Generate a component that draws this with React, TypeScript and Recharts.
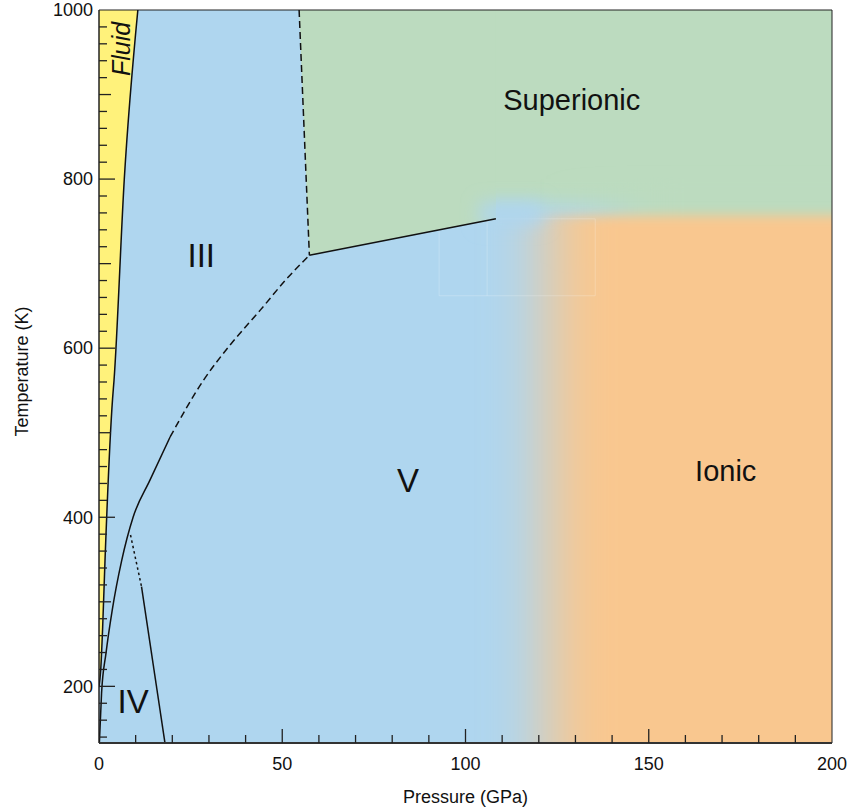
import React from 'react';
import {
  ComposedChart,
  Area,
  Line,
  XAxis,
  YAxis,
  ReferenceArea,
  ReferenceDot,
  ReferenceLine
} from 'recharts';

// phase boundaries, pressure (GPa) vs temperature (K)
const meltingLine = [
  { p: 0, t: 199 },
  { p: 0.46, t: 219 },
  { p: 1.0, t: 270 },
  { p: 1.64, t: 349 },
  { p: 3.7, t: 540 },
  { p: 4.1, t: 562 },
  { p: 6.9, t: 800 },
  { p: 10.6, t: 1000 }
];

const phaseIVLine = [
  { p: 0.1, t: 133 },
  { p: 0.7, t: 192 },
  { p: 1.9, t: 239 },
  { p: 3.6, t: 290 },
  { p: 6.2, t: 349 },
  { p: 9.3, t: 400 },
  { p: 13.9, t: 444 },
  { p: 19.4, t: 495 }
];

const phaseIIIDashed = [
  { p: 19.4, t: 495 },
  { p: 28.5, t: 562 },
  { p: 36, t: 605 },
  { p: 44, t: 645 },
  { p: 51, t: 681 },
  { p: 57.4, t: 710 }
];

const superionicLeft = [
  { p: 54.6, t: 1000 },
  { p: 57.4, t: 710 }
];

const superionicBottom = [
  { p: 57.4, t: 710 },
  { p: 108.3, t: 753 }
];

const ivVDotted = [
  { p: 8.6, t: 379 },
  { p: 11.6, t: 318 }
];

const ivVSolid = [
  { p: 11.6, t: 318 },
  { p: 18.0, t: 133 }
];

const superionicArea = [
  { p: 54.6, t: 1000 },
  { p: 57.4, t: 710 },
  { p: 108.3, t: 753 }
];

// soft-edged regions: [pMin, pMax, tMin, tMax]
const superionicSoft = [95, 230, 768, 1150];
const superionicFill = [140, 230, 700, 800];
const ionicSoft = [122, 230, 60, 757];
const blendPatch = [104, 121, 746, 772];

const regionLabels = [
  { text: 'Superionic', p: 129, t: 894 },
  { text: 'III', p: 27.9, t: 710 },
  { text: 'V', p: 84.3, t: 443 },
  { text: 'Ionic', p: 171, t: 455 },
  { text: 'IV', p: 9.3, t: 182.6 }
];
const fluidLabel = { text: 'Fluid', p: 6.0, t: 954 };

const xLabels = [0, 50, 100, 150, 200];
const yLabels = [200, 400, 600, 800, 1000];

const xTicks: number[] = [];
for (let v = 0; v <= 200; v += 10) xTicks.push(v);
const yTicks: number[] = [];
for (let v = 140; v <= 1000; v += 20) yTicks.push(v);

const BLUE = '#AFD6EF';
const GREEN = '#BCDBBF';
const ORANGE = '#F9C78F';
const YELLOW = '#FFF27B';
const INK = '#111';
const FONT = '"Liberation Sans", Arial, sans-serif';

const XTick = (props: any) => {
  const { x, y, payload } = props;
  const v = payload.value;
  const len = v % 50 === 0 ? 14 : 8;
  return (
    <g>
      {v > 0 && v < 200 && (
        <line x1={x} x2={x} y1={y} y2={y - len} stroke="#222" strokeWidth={1.3} />
      )}
      {xLabels.includes(v) && (
        <text x={x} y={y + 27} textAnchor="middle" fontSize={18} fontFamily={FONT} fill={INK}>
          {v}
        </text>
      )}
    </g>
  );
};

const YTick = (props: any) => {
  const { x, y, payload } = props;
  const v = payload.value;
  const len = v % 200 === 0 ? 16 : v % 100 === 0 ? 12 : 8;
  return (
    <g>
      {v < 1000 && <line x1={x} x2={x + len} y1={y} y2={y} stroke="#222" strokeWidth={1.3} />}
      {yLabels.includes(v) && (
        <text x={x - 6} y={y} dy="0.35em" textAnchor="end" fontSize={18} fontFamily={FONT} fill={INK}>
          {v}
        </text>
      )}
    </g>
  );
};

const softShape = (fill: string, filterId: string) => (props: any) => (
  <g clipPath={props.clipPath}>
    <rect
      x={props.x}
      y={props.y}
      width={props.width}
      height={props.height}
      fill={fill}
      filter={`url(#${filterId})`}
    />
  </g>
);

const labelShape = (text: string, big: boolean) => (props: any) => (
  <text
    x={props.cx}
    y={props.cy}
    textAnchor="middle"
    dominantBaseline="central"
    fontSize={big ? 33 : 29}
    fontFamily={FONT}
    fill={INK}
  >
    {text}
  </text>
);

const fluidShape = (props: any) => (
  <text
    x={props.cx}
    y={props.cy}
    textAnchor="middle"
    dominantBaseline="central"
    fontSize={25}
    fontStyle="italic"
    fontFamily={FONT}
    fill={INK}
    transform={`rotate(-90 ${props.cx} ${props.cy})`}
  >
    {fluidLabel.text}
  </text>
);

const xTitle = (props: any) => {
  const vb = props.viewBox || { x: 99, y: 743, width: 733, height: 66 };
  return (
    <text x={vb.x + vb.width / 2} y={vb.y + 60} textAnchor="middle" fontSize={18} fontFamily={FONT} fill={INK}>
      Pressure (GPa)
    </text>
  );
};

const yTitle = (props: any) => {
  const vb = props.viewBox || { x: 0, y: 10, width: 99, height: 733 };
  const cx = vb.x + 22;
  const cy = vb.y + vb.height / 2 - 5;
  return (
    <text
      x={cx}
      y={cy}
      textAnchor="middle"
      dominantBaseline="central"
      fontSize={18}
      fontFamily={FONT}
      fill={INK}
      transform={`rotate(-90 ${cx} ${cy})`}
    >
      Temperature (K)
    </text>
  );
};

const range = (d: any) => [d.t, 1000];

export default function App() {
  return (
    <div style={{ position: 'absolute', left: 0, top: 0, width: 851, height: 809, background: '#fff' }}>
      <ComposedChart width={851} height={809} margin={{ top: 10, right: 19, bottom: 0, left: 0 }}>
        <defs>
          <filter id="soften" x="-50%" y="-50%" width="200%" height="200%">
            <feGaussianBlur stdDeviation="30 6" />
          </filter>
          <filter id="softenGreen" x="-50%" y="-50%" width="200%" height="200%">
            <feGaussianBlur stdDeviation="10 10" />
          </filter>
          <filter id="softenPatch" x="-100%" y="-100%" width="300%" height="300%">
            <feGaussianBlur stdDeviation="9 9" />
          </filter>
        </defs>
        <XAxis
          type="number"
          dataKey="p"
          domain={[0, 200]}
          allowDataOverflow
          ticks={xTicks}
          interval={0}
          tickSize={0}
          tickMargin={0}
          tick={<XTick />}
          height={66}
          axisLine={{ stroke: '#333', strokeWidth: 2 }}
          label={xTitle}
        />
        <YAxis
          type="number"
          domain={[133, 1000]}
          allowDataOverflow
          ticks={yTicks}
          interval={0}
          tickSize={0}
          tickMargin={0}
          tick={<YTick />}
          width={99}
          axisLine={{ stroke: '#222', strokeWidth: 1 }}
          label={yTitle}
        />

        <ReferenceArea x1={0} x2={200} y1={133} y2={1000} fill={BLUE} fillOpacity={1} stroke="none" ifOverflow="hidden" />
        <ReferenceArea
          x1={superionicSoft[0]} x2={superionicSoft[1]} y1={superionicSoft[2]} y2={superionicSoft[3]}
          ifOverflow="hidden" shape={softShape(GREEN, 'softenGreen')}
        />
        <ReferenceArea
          x1={superionicFill[0]} x2={superionicFill[1]} y1={superionicFill[2]} y2={superionicFill[3]}
          ifOverflow="hidden" shape={softShape(GREEN, 'soften')}
        />
        <ReferenceArea
          x1={ionicSoft[0]} x2={ionicSoft[1]} y1={ionicSoft[2]} y2={ionicSoft[3]}
          ifOverflow="hidden" shape={softShape(ORANGE, 'soften')}
        />
        <ReferenceArea
          x1={92.8} x2={135.4} y1={662} y2={753}
          fill="none" stroke="#fff" strokeOpacity={0.22} strokeWidth={1}
        />
        <ReferenceLine
          segment={[{ x: 105.9, y: 662 }, { x: 105.9, y: 753 }]}
          stroke="#fff" strokeOpacity={0.22} strokeWidth={1}
        />

        <Area data={meltingLine} dataKey={range} type="monotone" fill={YELLOW} fillOpacity={1} stroke="none" isAnimationActive={false} />
        <Area data={superionicArea} dataKey={range} type="linear" fill={GREEN} fillOpacity={1} stroke="none" isAnimationActive={false} />

        <ReferenceArea
          x1={blendPatch[0]} x2={blendPatch[1]} y1={blendPatch[2]} y2={blendPatch[3]}
          ifOverflow="hidden" shape={softShape(BLUE, 'softenPatch')}
        />

        <Line data={meltingLine} dataKey="t" type="monotone" stroke={INK} strokeWidth={1.5} dot={false} isAnimationActive={false} />
        <Line data={phaseIVLine} dataKey="t" type="monotone" stroke={INK} strokeWidth={1.5} dot={false} isAnimationActive={false} />
        <Line data={phaseIIIDashed} dataKey="t" type="monotone" stroke={INK} strokeWidth={1.5} strokeDasharray="7 4" dot={false} isAnimationActive={false} />
        <Line data={superionicLeft} dataKey="t" type="linear" stroke={INK} strokeWidth={1.5} strokeDasharray="7 4" dot={false} isAnimationActive={false} />
        <Line data={superionicBottom} dataKey="t" type="linear" stroke={INK} strokeWidth={1.5} dot={false} isAnimationActive={false} />
        <Line data={ivVDotted} dataKey="t" type="linear" stroke={INK} strokeWidth={1.5} strokeDasharray="2.5 3" dot={false} isAnimationActive={false} />
        <Line data={ivVSolid} dataKey="t" type="linear" stroke={INK} strokeWidth={1.5} dot={false} isAnimationActive={false} />

        <ReferenceArea x1={0} x2={200} y1={133} y2={1000} fill="none" stroke="#222" strokeWidth={1} />

        {regionLabels.map((l) => (
          <ReferenceDot
            key={l.text}
            x={l.p}
            y={l.t}
            r={0}
            shape={labelShape(l.text, l.text.length <= 3)}
          />
        ))}
        <ReferenceDot x={fluidLabel.p} y={fluidLabel.t} r={0} shape={fluidShape} />
      </ComposedChart>
    </div>
  );
}
